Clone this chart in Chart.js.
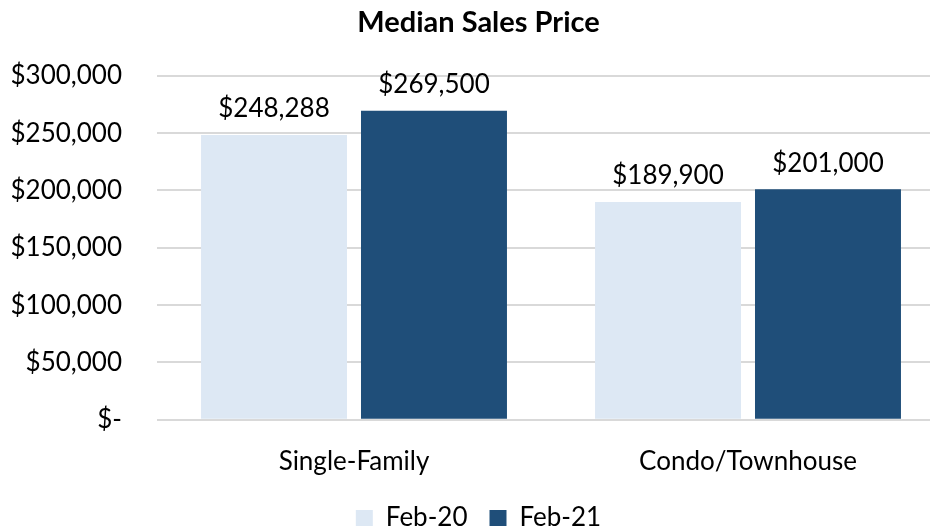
<!DOCTYPE html>
<html>
<head>
<meta charset="utf-8">
<script src="https://cdn.jsdelivr.net/npm/chart.js@4/dist/chart.umd.min.js"></script>
<style>
html,body{margin:0;padding:0;background:#fff;overflow:hidden;}
#wrap{width:962px;height:543px;position:relative;}
</style>
</head>
<body>
<div id="wrap"><canvas id="c"></canvas></div>
<script>
const categories = ["Single-Family", "Condo/Townhouse"];
const seriesNames = ["Feb-20", "Feb-21"];
const feb20 = [248288, 189900];
const feb21 = [269500, 201000];
const yTicks = [0, 50000, 100000, 150000, 200000, 250000, 300000];

const FONT = "Lato, 'Open Sans', sans-serif";
function money(v){ return v === 0 ? "$-" : "$" + v.toLocaleString("en-US"); }

const labelPlugin = {
  id: "barLabels",
  afterDatasetsDraw(chart){
    const ctx = chart.ctx;
    ctx.save();
    ctx.font = "26px " + FONT;
    ctx.fillStyle = "#000";
    ctx.textAlign = "center";
    ctx.textBaseline = "bottom";
    chart.data.datasets.forEach((ds, i) => {
      chart.getDatasetMeta(i).data.forEach((bar, j) => {
        ctx.fillText(money(ds.data[j]), bar.x, bar.y - 13);
      });
    });
    ctx.restore();
  }
};

new Chart(document.getElementById("c"), {
  type: "bar",
  data: {
    labels: categories,
    datasets: [
      { label: seriesNames[0], data: feb20, backgroundColor: "#dde8f4" },
      { label: seriesNames[1], data: feb21, backgroundColor: "#1f4e79" }
    ]
  },
  options: {
    responsive: true,
    maintainAspectRatio: false,
    animation: false,
    categoryPercentage: 0.812,
    barPercentage: 0.9125,
    layout: { padding: { left: 12, right: 17, top: 5, bottom: 2 } },
    plugins: {
      title: {
        display: true,
        text: "Median Sales Price",
        color: "#000",
        font: { family: FONT, size: 29, weight: "bold" },
        padding: { top: 0, bottom: 36 }
      },
      legend: {
        position: "bottom",
        labels: {
          color: "#000",
          font: { family: FONT, size: 26 },
          boxWidth: 17,
          boxHeight: 16,
          padding: 22
        }
      },
      tooltip: { enabled: false }
    },
    scales: {
      x: {
        grid: { display: false },
        border: { display: false },
        afterFit(axis){ axis.height = axis.height - 12; },
        ticks: { color: "#000", font: { family: FONT, size: 26 }, padding: 18 }
      },
      y: {
        min: 0,
        max: 300000,
        afterBuildTicks(axis){ axis.ticks = yTicks.map(v => ({ value: v })); },
        afterFit(axis){ axis.width = 145; },
        grid: { color: "#d9d9d9", lineWidth: 2, drawTicks: false },
        border: { display: false },
        ticks: {
          color: "#000",
          font: { family: FONT, size: 26 },
          padding: 35,
          callback: v => money(v)
        }
      }
    }
  },
  plugins: [labelPlugin]
});
</script>
</body>
</html>
